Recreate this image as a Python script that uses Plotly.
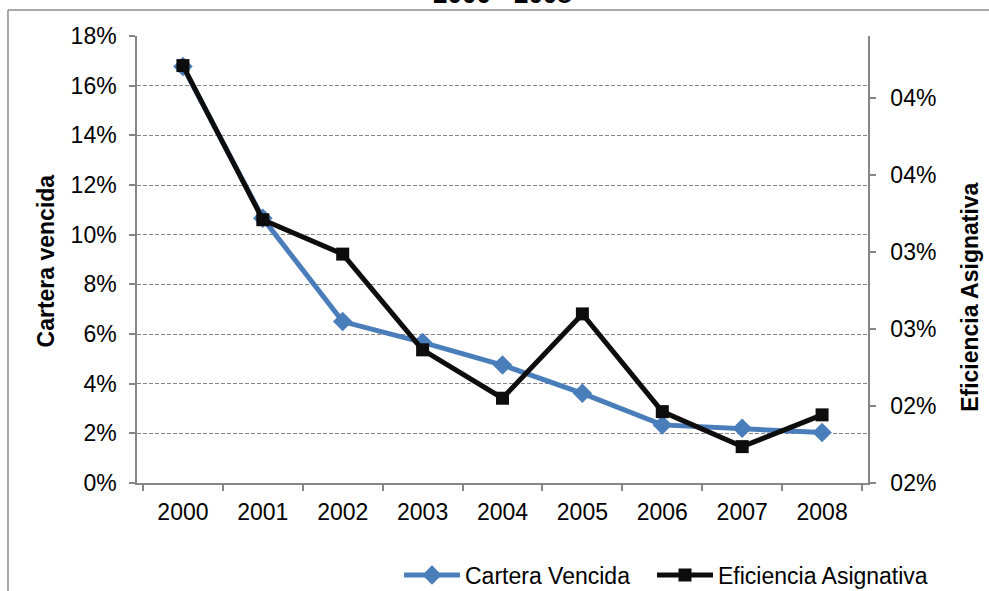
"""Cartera vencida vs eficiencia asignativa, 2000 - 2008."""
import plotly.graph_objects as go

# Data
years = ["2000", "2001", "2002", "2003", "2004", "2005", "2006", "2007", "2008"]
cartera_vencida = [0.1677, 0.1066, 0.0650, 0.0566, 0.0475, 0.0361, 0.0234, 0.0220, 0.0203]
eficiencia_asignativa = [0.04208, 0.03208, 0.02985, 0.02364, 0.0205, 0.02597, 0.01963, 0.01736, 0.01942]

# Right axis ticks (the original shows them rounded with a "00%" format)
right_tick_values = [0.015, 0.020, 0.025, 0.030, 0.035, 0.040]
right_tick_labels = ["02%", "02%", "03%", "03%", "04%", "04%"]

FONT = "Liberation Sans, Arial, sans-serif"
AXIS_GRAY = "#868686"


def main() -> None:
    """Build and write the chart."""
    fig = go.Figure([
        go.Scatter(
            x=years, y=cartera_vencida, name="Cartera Vencida",
            mode="lines+markers", legend="legend",
            line={"color": "#4a7ebb", "width": 5},
            marker={"symbol": "diamond", "size": 15, "color": "#4a7ebb"},
        ),
        go.Scatter(
            x=years, y=eficiencia_asignativa, name="Eficiencia Asignativa",
            mode="lines+markers", yaxis="y2", legend="legend2",
            line={"color": "#0d0d0d", "width": 5},
            marker={"symbol": "square", "size": 13, "color": "#0d0d0d"},
        ),
    ])

    axis_common = {
        "showline": True,
        "linecolor": AXIS_GRAY,
        "linewidth": 1.5,
        "ticks": "outside",
        "tickcolor": AXIS_GRAY,
        "tickwidth": 1.5,
        "ticklen": 6,
        "zeroline": False,
        "automargin": False,
        "tickfont": {"family": FONT, "size": 23, "color": "#000000"},
    }

    legend_common = {
        "orientation": "h",
        "xanchor": "left",
        "y": -0.206,
        "yanchor": "middle",
        "font": {"family": FONT, "size": 23},
        "itemwidth": 56,
        "bgcolor": "rgba(0,0,0,0)",
    }

    fig.update_layout(
        width=989,
        height=591,
        margin={"l": 137, "r": 121, "t": 36, "b": 108, "autoexpand": False},
        paper_bgcolor="white",
        plot_bgcolor="white",
        font={"family": FONT, "size": 23, "color": "#000000"},
        xaxis={
            **axis_common,
            "type": "category",
            "tickson": "boundaries",
            "showgrid": False,
            "ticklabelstandoff": 8,
        },
        yaxis={
            **axis_common,
            "range": [0, 0.18],
            "dtick": 0.02,
            "tickformat": ".0%",
            "showgrid": True,
            "gridcolor": "#868686",
            "gridwidth": 1.3,
            "griddash": "4px,2px",
            "ticklabelstandoff": 8,
        },
        yaxis2={
            **axis_common,
            "overlaying": "y",
            "side": "right",
            "range": [0.015, 0.044],
            "tickvals": right_tick_values,
            "ticktext": right_tick_labels,
            "showgrid": False,
            "ticklabelstandoff": 10,
        },
        legend={**legend_common, "x": 0.3584},
        legend2={**legend_common, "x": 0.7045},
        showlegend=True,
        annotations=[
            {
                "text": "<b>2000 - 2008</b>",
                "xref": "paper", "yref": "paper",
                "x": 0.5, "y": 1.093,
                "xanchor": "center", "yanchor": "middle",
                "showarrow": False,
                "font": {"family": FONT, "size": 26},
            },
            {
                "text": "<b>Cartera vencida</b>",
                "xref": "paper", "yref": "paper",
                "x": -0.125, "y": 0.497,
                "textangle": -90,
                "xanchor": "center", "yanchor": "middle",
                "showarrow": False,
                "font": {"family": FONT, "size": 23},
            },
            {
                "text": "<b>Eficiencia Asignativa</b>",
                "xref": "paper", "yref": "paper",
                "x": 1.14, "y": 0.415,
                "textangle": -90,
                "xanchor": "center", "yanchor": "middle",
                "showarrow": False,
                "font": {"family": FONT, "size": 23},
            },
        ],
        shapes=[
            # outer chart border (only top and left edges are in view)
            {"type": "line", "xref": "paper", "yref": "paper",
             "x0": -0.1765, "x1": 1.2, "y0": 1.058, "y1": 1.058,
             "line": {"color": "#8c8c8c", "width": 1.5}},
            {"type": "line", "xref": "paper", "yref": "paper",
             "x0": -0.1765, "x1": -0.1765, "y0": 1.058, "y1": -0.3,
             "line": {"color": "#8c8c8c", "width": 1.5}},
        ],
    )

    # drop the default body margin so the 989x591 figure sits at the page origin
    fig.write_html(
        "out.html",
        config={"displayModeBar": False},
        post_script="document.body.style.margin = '0';",
    )


if __name__ == "__main__":
    main()
